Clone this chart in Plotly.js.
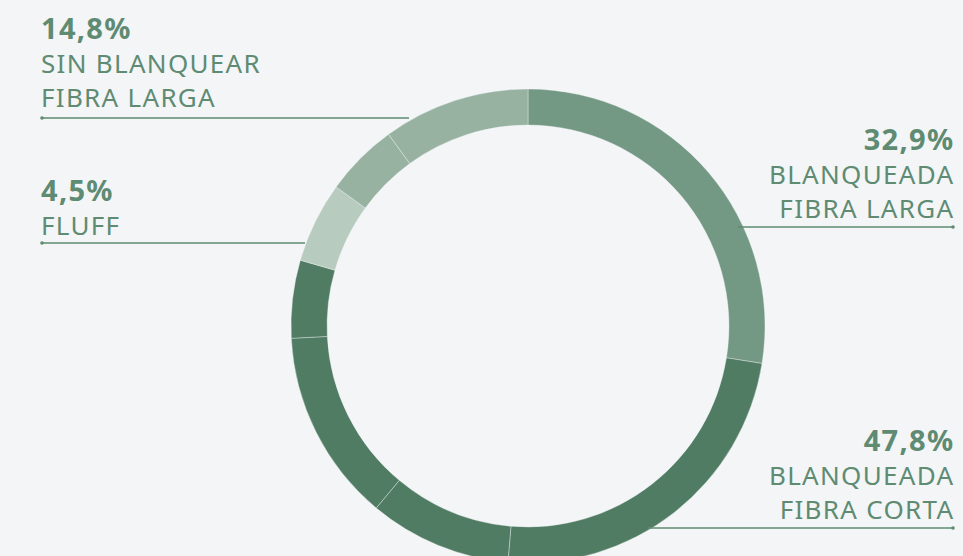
<!DOCTYPE html>
<html>
<head>
<meta charset="utf-8">
<script src="https://cdn.plot.ly/plotly-3.0.1.min.js"></script>
<style>
  html, body { margin: 0; padding: 0; background: #f3f5f7; overflow: hidden; }
  #chart { width: 963px; height: 600px; }
  .annotation-text { letter-spacing: 1.3px; }
</style>
</head>
<body>
<div id="chart"></div>
<script>
const sliceLabels = ['bfl-1', 'bfc-1', 'bfc-2', 'bfc-3', 'bfc-4', 'fluff-1', 'sbfl-1', 'sbfl-2'];
const sliceValues = [27.5, 23.8, 9.7, 13.1, 5.3, 5.5, 5.0, 10.0];
const sliceGroup = ['bfl', 'bfc', 'bfc', 'bfc', 'bfc', 'fluff', 'sbfl', 'sbfl'];

// category labels
const categoryKeys = ['bfl', 'bfc', 'fluff', 'sbfl'];
const categoryPct = ['32,9%', '47,8%', '4,5%', '14,8%'];
const categoryNames = [
  ['BLANQUEADA', 'FIBRA LARGA'],
  ['BLANQUEADA', 'FIBRA CORTA'],
  ['FLUFF'],
  ['SIN BLANQUEAR', 'FIBRA LARGA'],
];

const W = 963;
const H = 600;
const BG = '#f3f5f7';
const TEXT = '#5e8b72';
const COLORS = {
  bfl: '#739883',
  bfc: '#507c63',
  fluff: '#b8cbbf',
  sbfl: '#98b2a2',
};

// where each label sits: [textX, anchor, bottomY, lineX0, lineX1, lineY, dotX]
const LABEL_POS = {
  bfl: [956, 'right', 228, 738, 953, 227, 953],
  bfc: [956, 'right', 529, 648, 953, 528, 953],
  fluff: [39, 'left', 245, 42, 305, 243, 42],
  sbfl: [39, 'left', 117, 42, 409, 118, 42],
};

const trace = {
  type: 'pie',
  labels: sliceLabels,
  values: sliceValues,
  sort: false,
  direction: 'clockwise',
  rotation: 0,
  hole: 0.848,
  textinfo: 'none',
  hoverinfo: 'skip',
  showlegend: false,
  marker: {
    colors: sliceGroup.map(g => COLORS[g]),
    line: { color: 'rgba(243,245,247,0.55)', width: 0.7 },
  },
  domain: {
    x: [291 / W, 765 / W],
    y: [1 - 563 / H, 1 - 89 / H],
  },
};

const shapes = [];
const annotations = [];
categoryKeys.forEach((key, i) => {
  const [tx, anchor, by, lx0, lx1, ly, dx] = LABEL_POS[key];
  shapes.push({
    type: 'line', xref: 'x', yref: 'y', layer: 'above',
    x0: lx0, x1: lx1, y0: ly, y1: ly,
    line: { color: TEXT, width: 1.3 },
  });
  shapes.push({
    type: 'circle', xref: 'x', yref: 'y', layer: 'above',
    x0: dx - 1.8, x1: dx + 1.8, y0: ly - 1.8, y1: ly + 1.8,
    fillcolor: TEXT, line: { width: 0 },
  });
  const text = [`<span style="font-size:29px"><b>${categoryPct[i]}</b></span>`]
    .concat(categoryNames[i]).join('<br>');
  annotations.push({
    xref: 'x', yref: 'y', x: tx, y: by,
    xanchor: anchor, yanchor: 'bottom', align: anchor,
    showarrow: false, text,
    font: { family: 'Noto Sans, Open Sans, sans-serif', size: 26, color: TEXT },
  });
});

const layout = {
  width: W,
  height: H,
  margin: { l: 0, r: 0, t: 0, b: 0 },
  paper_bgcolor: BG,
  plot_bgcolor: BG,
  xaxis: { range: [0, W], visible: false, fixedrange: true },
  yaxis: { range: [H, 0], visible: false, fixedrange: true },
  shapes,
  annotations,
  showlegend: false,
};

Plotly.newPlot('chart', [trace], layout, { displayModeBar: false, staticPlot: true });
</script>
</body>
</html>
